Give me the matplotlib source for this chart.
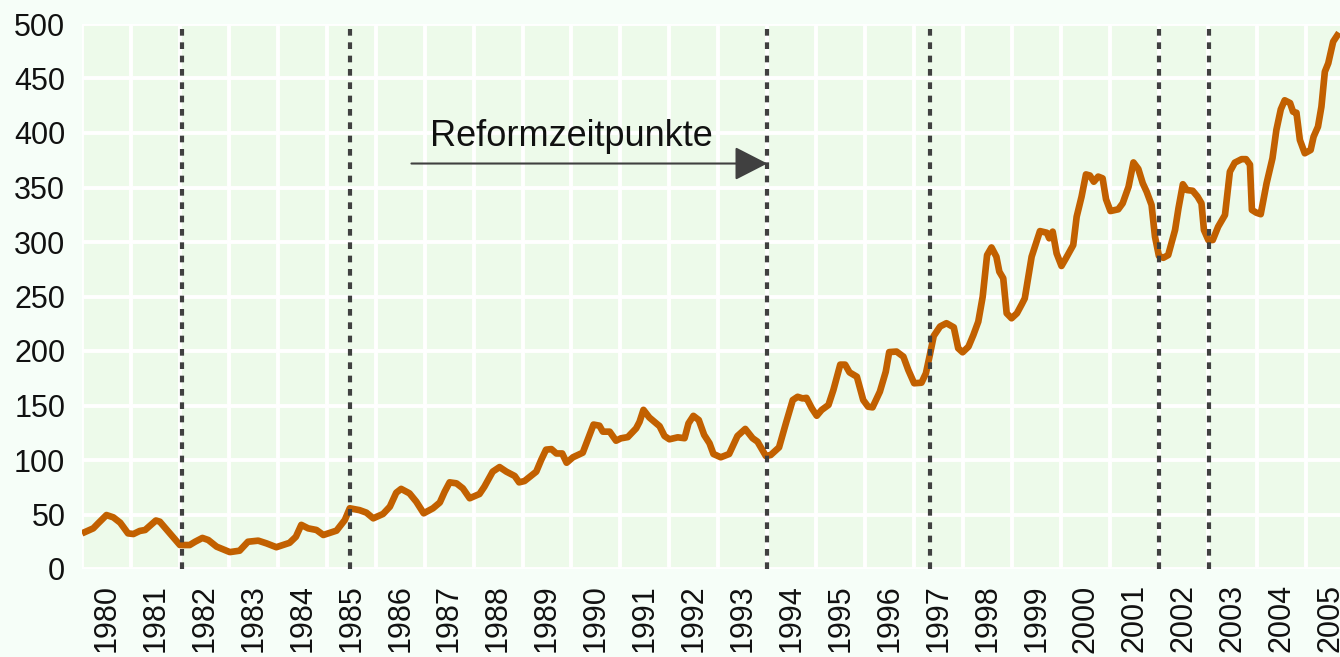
import matplotlib
matplotlib.use("Agg")
import matplotlib.pyplot as plt
import numpy as np

plt.rcParams['font.family'] = ['Liberation Sans', 'DejaVu Sans']

# ---- data (time in decimal years, index value) ----
t = [1980.00, 1980.23, 1980.33, 1980.50, 1980.64, 1980.78, 1980.94, 1981.05, 1981.18, 1981.29,
     1981.51, 1981.59, 1982.00, 1982.20, 1982.31, 1982.46, 1982.58, 1982.75, 1983.02, 1983.22,
     1983.39, 1983.60, 1983.77, 1983.97, 1984.24, 1984.37, 1984.48, 1984.62, 1984.79, 1984.93,
     1985.20, 1985.37, 1985.47, 1985.67, 1985.81, 1985.95, 1986.15, 1986.29, 1986.42, 1986.52,
     1986.69, 1986.83, 1986.98, 1987.17, 1987.31, 1987.41, 1987.51, 1987.65, 1987.78, 1987.92,
     1988.12, 1988.22, 1988.39, 1988.53, 1988.67, 1988.84, 1988.93, 1989.04, 1989.28, 1989.38,
     1989.48, 1989.59, 1989.69, 1989.81, 1989.90, 1990.03, 1990.23, 1990.33, 1990.45, 1990.57,
     1990.64, 1990.78, 1990.91, 1991.01, 1991.15, 1991.32, 1991.39, 1991.47, 1991.59, 1991.80,
     1991.90, 1992.00, 1992.17, 1992.31, 1992.39, 1992.49, 1992.60, 1992.71, 1992.82, 1992.90,
     1993.05, 1993.22, 1993.39, 1993.55, 1993.70, 1993.80, 1993.97, 1994.07, 1994.24, 1994.38,
     1994.52, 1994.62, 1994.72, 1994.80, 1994.91, 1995.01, 1995.11, 1995.25, 1995.35, 1995.49,
     1995.59, 1995.68, 1995.83, 1995.96, 1996.06, 1996.15, 1996.30, 1996.42, 1996.49, 1996.64,
     1996.78, 1996.88, 1997.00, 1997.15, 1997.24, 1997.32, 1997.40, 1997.53, 1997.66, 1997.81,
     1997.90, 1997.99, 1998.11, 1998.21, 1998.31, 1998.40, 1998.49, 1998.58, 1998.68, 1998.74,
     1998.82, 1998.89, 1998.99, 1999.10, 1999.20, 1999.26, 1999.40, 1999.57, 1999.71, 1999.76,
     1999.83, 1999.91, 2000.01, 2000.10, 2000.25, 2000.32, 2000.42, 2000.51, 2000.59, 2000.67,
     2000.76, 2000.85, 2000.92, 2001.01, 2001.17, 2001.26, 2001.38, 2001.48, 2001.58, 2001.67,
     2001.75, 2001.85, 2001.92, 2002.00, 2002.09, 2002.19, 2002.33, 2002.40, 2002.49, 2002.57,
     2002.69, 2002.79, 2002.87, 2002.92, 2003.01, 2003.10, 2003.21, 2003.35, 2003.45, 2003.55,
     2003.69, 2003.78, 2003.86, 2003.90, 2003.99, 2004.08, 2004.20, 2004.32, 2004.40, 2004.49,
     2004.57, 2004.68, 2004.74, 2004.81, 2004.88, 2004.98, 2005.10, 2005.16, 2005.25, 2005.32,
     2005.39, 2005.46, 2005.56, 2005.68]
values = [32.7, 37.3, 41.9, 49.5, 47.4, 42.5, 32.7, 32.1, 34.9, 35.8,
          44.5, 43.4, 22.0, 22.0, 25.0, 28.5, 26.6, 20.5, 15.5, 16.8,
          25.0, 26.0, 23.5, 20.0, 24.0, 29.6, 40.5, 37.3, 35.8, 31.2,
          35.2, 45.0, 55.7, 54.0, 51.7, 46.5, 50.5, 57.2, 70.0, 73.5,
          69.4, 61.7, 51.1, 55.7, 61.0, 71.0, 79.5, 78.6, 74.0, 64.9,
          68.8, 75.5, 89.3, 93.5, 89.3, 85.3, 79.5, 80.7, 89.3, 100.0,
          109.5, 110.0, 106.0, 106.0, 97.5, 102.5, 106.7, 118.3, 132.5, 131.5,
          126.0, 126.0, 117.7, 119.9, 121.0, 129.0, 135.0, 146.0, 139.0, 131.0,
          122.0, 119.0, 120.8, 120.0, 133.6, 140.5, 136.7, 123.0, 115.3, 105.5,
          102.5, 105.5, 122.0, 128.5, 120.0, 116.8, 103.7, 104.6, 111.6, 133.7,
          155.0, 158.0, 156.5, 157.0, 147.4, 140.6, 145.9, 150.5, 164.2, 187.5,
          187.5, 180.4, 176.4, 155.0, 148.9, 148.3, 162.7, 181.0, 199.0, 199.5,
          194.8, 182.6, 170.4, 170.9, 179.5, 196.3, 213.8, 222.5, 225.5, 221.7,
          202.5, 198.8, 204.0, 214.7, 226.9, 249.8, 288.0, 295.0, 286.5, 272.8,
          266.7, 234.6, 230.0, 234.6, 243.0, 248.3, 286.5, 310.0, 308.5, 303.4,
          309.5, 289.6, 278.0, 285.0, 297.2, 323.2, 341.6, 362.0, 361.0, 355.3,
          360.0, 358.4, 339.2, 328.4, 330.0, 335.5, 350.7, 373.0, 367.0, 353.9,
          346.1, 334.0, 304.9, 287.2, 285.5, 288.0, 311.0, 331.0, 353.0, 347.7,
          347.0, 341.6, 335.5, 311.0, 301.8, 301.8, 314.0, 324.8, 364.5, 372.8,
          376.0, 376.0, 371.0, 329.4, 326.9, 325.5, 353.9, 376.8, 402.8, 421.7,
          430.0, 427.5, 419.5, 418.6, 393.6, 381.4, 384.4, 396.6, 405.8, 424.1,
          456.2, 464.0, 483.8, 492.0]

years = list(range(1980, 2006))
year_labels = [str(y) for y in years]
reform_dates = [1982.04, 1985.48, 1994.0, 1997.32, 2002.0, 2003.02]
y_ticks = [0, 50, 100, 150, 200, 250, 300, 350, 400, 450, 500]
annotation_text = "Reformzeitpunkte"

# ---- figure ----
W, H = 1340, 657
fig = plt.figure(figsize=(W / 100, H / 100), dpi=100, facecolor='#F6FEF8')
ax = fig.add_axes([82 / W, 88 / H, 1272.7 / W, 545 / H])
ax.set_facecolor('#EDFAEA')
for s in ax.spines.values():
    s.set_visible(False)

ax.set_xlim(1980, 2006)
ax.set_ylim(0, 500)

ax.set_yticks(y_ticks)
ax.set_yticklabels([str(v) for v in y_ticks], fontsize=22, color='#111111')
ax.set_xticks([y + 0.5 for y in years])
ax.set_xticklabels(year_labels, rotation=90, fontsize=22, color='#111111', va='top', ha='center')
ax.set_xticks(list(range(1980, 2007)), minor=True)
ax.tick_params(axis='both', which='both', length=0)
ax.tick_params(axis='y', pad=12)
ax.tick_params(axis='x', pad=11)

ax.grid(which='major', axis='y', color='white', lw=2.8)
ax.grid(which='minor', axis='x', color='white', lw=2.8)
ax.grid(which='major', axis='x', visible=False)
ax.set_axisbelow(True)

ax.plot(t, values, color='#C26000', lw=4.8, solid_joinstyle='round', solid_capstyle='butt', zorder=3)

for d in reform_dates:
    ax.axvline(d, color='#404040', lw=3.0, ls=(0, (1.6, 1.6)), zorder=4)

ax.annotate('', xy=(reform_dates[2], 372), xytext=(1986.73, 372),
            arrowprops=dict(arrowstyle='-|>,head_length=2.05,head_width=1.05',
                            color='#404040', lw=1.5, shrinkA=0, shrinkB=0,
                            mutation_scale=10), zorder=5)
ax.text(1990.0, 388, annotation_text, fontsize=26, ha='center', va='baseline', color='#111111', zorder=5)

fig.savefig('out.png', dpi=100, facecolor=fig.get_facecolor())
